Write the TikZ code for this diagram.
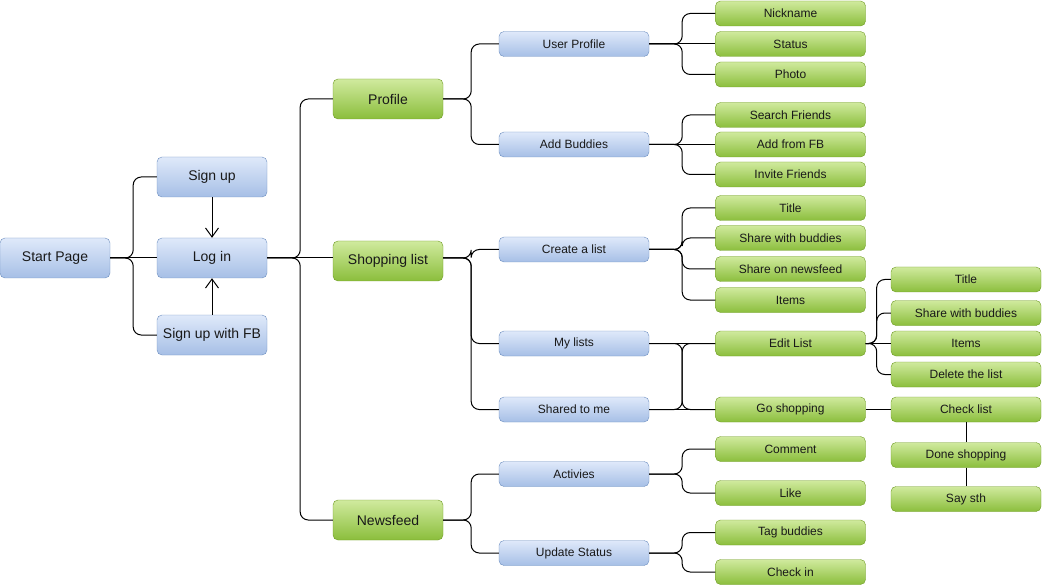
\documentclass[tikz,border=0pt]{standalone}
\usepackage{fontspec}
\setmainfont{Liberation Sans}
\usetikzlibrary{arrows.meta}
\definecolor{blueline}{HTML}{6C8EBF}
\definecolor{bluetop}{HTML}{DFE9FA}
\definecolor{bluebot}{HTML}{A6BFE6}
\definecolor{greenline}{HTML}{6E9A22}
\definecolor{greentop}{HTML}{D0EA9E}
\definecolor{greenbot}{HTML}{8BBE3C}
\begin{document}
\begin{tikzpicture}[x=1pt, y=-1pt,
  box/.style={rounded corners=5pt, inner sep=0pt, text=black!90},
  big/.style={box, minimum width=110pt, minimum height=40pt, font=\fontsize{14}{16}\selectfont},
  small/.style={box, minimum width=150pt, minimum height=25pt, font=\fontsize{12}{14}\selectfont},
  bluebox/.style={draw=blueline, top color=bluetop, bottom color=bluebot},
  greenbox/.style={draw=greenline, top color=greentop, bottom color=greenbot},
  link/.style={draw, line width=1pt, rounded corners=8pt},
  arr/.style={draw, line width=1pt, -{Straight Barb[length=9pt,width=13pt]}}]
\useasboundingbox (0,0) rectangle (1042,588);
% level 0 and 1
\node[big, bluebox] (start) at (55,258){Start Page};
\node[big, bluebox] (signup) at (212,177){Sign up};
\node[big, bluebox] (login) at (212,258){Log in};
\node[big, bluebox] (signupfb) at (212,335){Sign up with FB};
\draw[link](start.east) -- ++(23,0) |- (signup.west);
\draw[link](start.east) -- (login.west);
\draw[link](start.east) -- ++(23,0) |- (signupfb.west);
\draw[arr](signup) -- (login);
\draw[arr](signupfb) -- (login);
% level 2
\node[big, greenbox] (profile) at (388,99){Profile};
\node[big, greenbox] (shop) at (388,261){Shopping list};
\node[big, greenbox] (news) at (388,520){Newsfeed};
\draw[link](login.east) -- ++(33,0) |- (profile.west);
\draw[link](login.east) -- (login.east -| shop.west);
\draw[link](login.east) -- ++(33,0) |- (news.west);
% level 3
\node[small, bluebox] (uprofile) at (574,44){User Profile};
\node[small, bluebox] (buddies) at (574,144.5){Add Buddies};
\node[small, bluebox] (create) at (574,249.5){Create a list};
\node[small, bluebox] (mylists) at (574,343.5){My lists};
\node[small, bluebox] (shared) at (574,409.5){Shared to me};
\node[small, bluebox] (activ) at (574,474){Activies};
\node[small, bluebox] (update) at (574,553){Update Status};
\draw[link](profile.east) -- ++(28,0) |- (uprofile.west);
\draw[link](profile.east) -- ++(28,0) |- (buddies.west);
\draw[link](shop.east |- login.east) -- ++(28,0) |- (create.west);
\draw[link](shop.east |- login.east) -- ++(28,0) |- (mylists.west);
\draw[link](shop.east |- login.east) -- ++(28,0) |- (shared.west);
\draw[link](news.east) -- ++(28,0) |- (activ.west);
\draw[link](news.east) -- ++(28,0) |- (update.west);
% level 4
\node[small, greenbox] (nick) at (790.5,13.5){Nickname};
\node[small, greenbox] (status) at (790.5,44){Status};
\node[small, greenbox] (photo) at (790.5,74.5){Photo};
\node[small, greenbox] (search) at (790.5,115){Search Friends};
\node[small, greenbox] (addfb) at (790.5,144.5){Add from FB};
\node[small, greenbox] (invite) at (790.5,174.5){Invite Friends};
\node[small, greenbox] (title) at (790.5,208){Title};
\node[small, greenbox] (sharebud) at (790.5,238){Share with buddies};
\node[small, greenbox] (sharenews) at (790.5,269){Share on newsfeed};
\node[small, greenbox] (items) at (790.5,300){Items};
\node[small, greenbox] (edit) at (790.5,343.5){Edit List};
\node[small, greenbox] (goshop) at (790.5,409.5){Go shopping};
\node[small, greenbox] (comment) at (790.5,449){Comment};
\node[small, greenbox] (like) at (790.5,493){Like};
\node[small, greenbox] (tag) at (790.5,532.5){Tag buddies};
\node[small, greenbox] (checkin) at (790.5,572){Check in};
\draw[link](uprofile.east) -- ++(33,0) |- (nick.west);
\draw[link](uprofile.east) -- (status.west);
\draw[link](uprofile.east) -- ++(33,0) |- (photo.west);
\draw[link](buddies.east) -- ++(33,0) |- (search.west);
\draw[link](buddies.east) -- (addfb.west);
\draw[link](buddies.east) -- ++(33,0) |- (invite.west);
\draw[link](create.east) -- ++(33,0) |- (title.west);
\draw[link](create.east) -- ++(33,0) |- (sharebud.west);
\draw[link](create.east) -- ++(33,0) |- (sharenews.west);
\draw[link](create.east) -- ++(33,0) |- (items.west);
\draw[link](mylists.east) -- (edit.west);
\draw[link](mylists.east) -- ++(33,0) |- (goshop.west);
\draw[link](shared.east) -- ++(33,0) |- (edit.west);
\draw[link](shared.east) -- (goshop.west);
\draw[link](activ.east) -- ++(33,0) |- (comment.west);
\draw[link](activ.east) -- ++(33,0) |- (like.west);
\draw[link](update.east) -- ++(33,0) |- (tag.west);
\draw[link](update.east) -- ++(33,0) |- (checkin.west);
% level 5
\node[small, greenbox] (etitle) at (966,279.5){Title};
\node[small, greenbox] (esharebud) at (966,313){Share with buddies};
\node[small, greenbox] (eitems) at (966,343.5){Items};
\node[small, greenbox] (edelete) at (966,374.5){Delete the list};
\node[small, greenbox] (checklist) at (966,409.5){Check list};
\node[small, greenbox] (done) at (966,455){Done shopping};
\node[small, greenbox] (saysth) at (966,499){Say sth};
\draw[link](edit.east) -- ++(11,0) |- (etitle.west);
\draw[link](edit.east) -- ++(11,0) |- (esharebud.west);
\draw[link](edit.east) -- (eitems.west);
\draw[link](edit.east) -- ++(11,0) |- (edelete.west);
\draw[link](goshop.east) -- (checklist.west);
\draw[link](checklist) -- (done);
\draw[link](done) -- (saysth);
\end{tikzpicture}
\end{document}
